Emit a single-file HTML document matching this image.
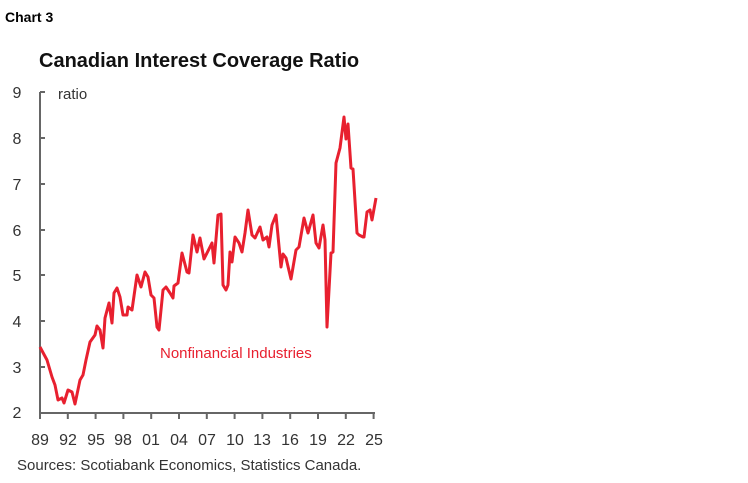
<!DOCTYPE html>
<html><head><meta charset="utf-8"><style>
body{margin:0;background:#fff;}
svg{display:block;font-family:"Liberation Sans",sans-serif;}
</style></head><body>
<svg width="748" height="483" viewBox="0 0 748 483" xmlns="http://www.w3.org/2000/svg">
<text x="5" y="22" font-size="14" font-weight="bold" fill="#000">Chart 3</text>
<text x="39" y="67" font-size="20" font-weight="bold" fill="#111">Canadian Interest Coverage Ratio</text>
<g stroke="#666" stroke-width="2" fill="none">
<path d="M40,92V413H375"/>
<path d="M40,92h5M40,138h5M40,184h5M40,230h5M40,275h5M40,321h5M40,367h5"/>
<path d="M40,413v6M67.8,413v6M95.6,413v6M123.4,413v6M151.2,413v6M179,413v6M206.8,413v6M234.6,413v6M262.4,413v6M290.2,413v6M318,413v6M345.8,413v6M373.6,413v6"/>
</g>
<g font-size="16" fill="#333" text-anchor="middle">
<text x="17" y="98">9</text><text x="17" y="144">8</text><text x="17" y="190">7</text><text x="17" y="236">6</text><text x="17" y="281">5</text><text x="17" y="327">4</text><text x="17" y="373">3</text><text x="17" y="418">2</text>
<text x="40" y="445">89</text><text x="68" y="445">92</text><text x="96" y="445">95</text><text x="123" y="445">98</text><text x="151" y="445">01</text><text x="179" y="445">04</text><text x="207" y="445">07</text><text x="235" y="445">10</text><text x="262" y="445">13</text><text x="290" y="445">16</text><text x="318" y="445">19</text><text x="346" y="445">22</text><text x="374" y="445">25</text>
</g>
<text x="58" y="99" font-size="15" fill="#333">ratio</text>
<text x="160" y="358" font-size="15" fill="#e8202f">Nonfinancial Industries</text>
<text x="17" y="470" font-size="15" fill="#333">Sources: Scotiabank Economics, Statistics Canada.</text>
<polyline fill="none" stroke="#e8202f" stroke-width="3" stroke-linejoin="round" points="40,347 47,360 52,377 55,385 58,400 62,398 64,403 68,390 72,392 75,404 80,380 83,375 86,360 90,342 95,335 97,326 100,330 103,348 105,318 109,303 112,323 114,293 117,288 120,297 123,315 127,315 128,307 132,310 137,275 141,287 145,272 148,277 151,295 154,298 157,327 159,330 163,290 166,287 170,293 173,298 174,286 178,283 182,253 187,272 189,273 193,235 197,252 200,238 204,259 212,243 214,263 218,215 221,214 223,285 226,290 228,285 230,252 232,262 235,237 239,243 242,252 245,233 248,210 252,235 255,238 260,227 263,240 267,237 269,247 272,225 276,215 281,267 283,254 286,258 291,279 296,250 299,247 304,218 308,233 313,215 316,243 319,248 323,225 325,240 327,327 331,253 333,252 336,163 340,148 344,117 346,139 348,124 351,168 353,169 357,233 359,235 363,237 364,237 367,212 370,210 372,220 376,198"/>
</svg>
</body></html>
